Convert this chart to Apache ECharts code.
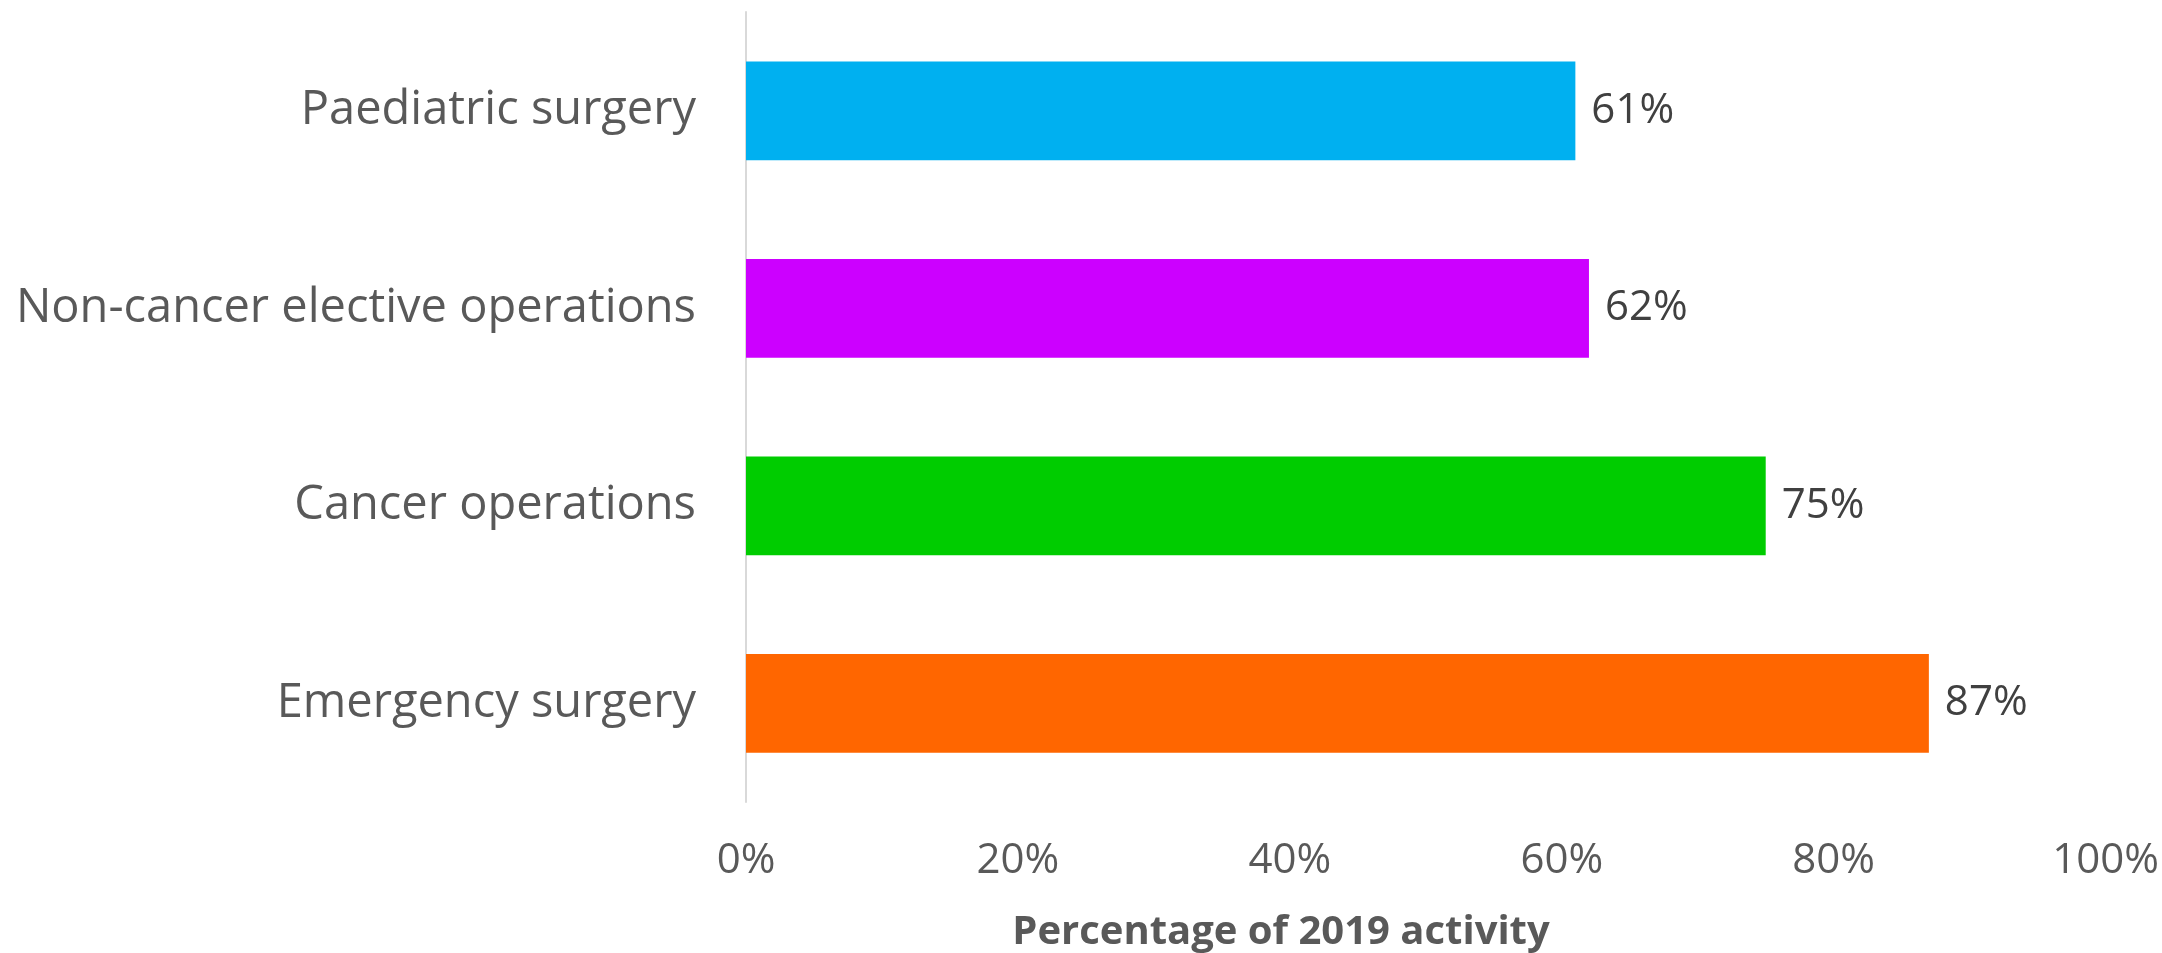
<!DOCTYPE html>
<html>
<head>
<meta charset="utf-8">
<title>Percentage of 2019 activity</title>
<script src="https://cdn.jsdelivr.net/npm/echarts@6/dist/echarts.min.js"></script>
<style>
  html, body { margin: 0; padding: 0; background: #ffffff; }
  #chart { width: 2162px; height: 953px; }
</style>
</head>
<body>
<div id="chart"></div>
<script>
// Categories listed bottom to top (category y-axis starts at the bottom)
const categories = ['Emergency surgery', 'Cancer operations', 'Non-cancer elective operations', 'Paediatric surgery'];
const values = [87, 75, 62, 61];
const barColors = ['#FF6600', '#00CC00', '#CC00FF', '#00B0F0'];
const xTicks = [0, 20, 40, 60, 80, 100];
const axisTitle = 'Percentage of 2019 activity';

const FONT = '"Open Sans", "Liberation Sans", sans-serif';

const chart = echarts.init(document.getElementById('chart'), null, { renderer: 'canvas' });

chart.setOption({
  animation: false,
  backgroundColor: '#ffffff',
  grid: { left: 746, right: 56, top: 12, bottom: 151, containLabel: false },
  xAxis: {
    type: 'value',
    min: xTicks[0],
    max: xTicks[xTicks.length - 1],
    interval: xTicks[1] - xTicks[0],
    axisLine: { show: false },
    axisTick: { show: false },
    splitLine: { show: false },
    axisLabel: {
      formatter: v => v + '%',
      color: '#595959',
      fontFamily: FONT,
      fontSize: 42,
      margin: 38
    }
  },
  yAxis: {
    type: 'category',
    data: categories,
    axisLine: { show: true, lineStyle: { color: '#d9d9d9', width: 2 } },
    axisTick: { show: false },
    splitLine: { show: false },
    axisLabel: {
      color: '#595959',
      fontFamily: FONT,
      fontSize: 47,
      margin: 50
    }
  },
  series: [{
    type: 'bar',
    barWidth: '50%',
    data: values.map((v, i) => ({ value: v, itemStyle: { color: barColors[i] } })),
    label: {
      show: true,
      position: 'right',
      distance: 16,
      formatter: p => p.value + '%',
      color: '#404040',
      fontFamily: FONT,
      fontSize: 42
    }
  }],
  graphic: [{
    type: 'text',
    x: 1281,
    y: 933,
    style: {
      text: axisTitle,
      fill: '#595959',
      font: 'bold 40px ' + FONT,
      textAlign: 'center',
      textVerticalAlign: 'middle'
    }
  }]
});
</script>
</body>
</html>
